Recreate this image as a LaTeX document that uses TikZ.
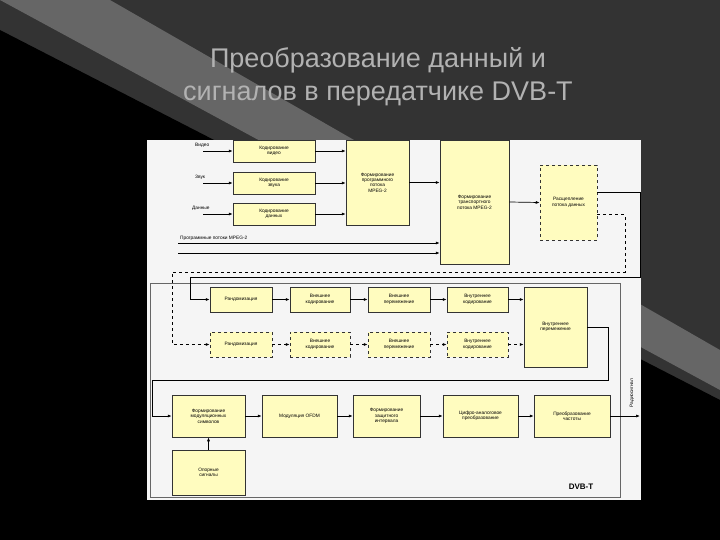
\documentclass[tikz,border=0pt]{standalone}
\usepackage{fontspec}
\setmainfont{Liberation Sans}
\usetikzlibrary{arrows.meta}
\begin{document}
\begin{tikzpicture}[x=1pt,y=-1pt,
 blk/.style={draw=black!80,fill=yellow!25,line width=0.5pt,align=center,font=\fontsize{4.8}{5.4}\selectfont,inner sep=1pt},
 dblk/.style={blk,dashed},
 ar/.style={-{Latex[length=4pt,width=3pt]},line width=0.7pt},
 lab/.style={font=\fontsize{4.8}{5.4}\selectfont,inner sep=0pt}]
\useasboundingbox (0,0) rectangle (720,540);
\fill[black!80] (0,0) rectangle (720,540);
\fill[black!60] (0,0) -- (110,0) -- (720,350) -- (720,390) -- cycle;
\fill[black] (0,30) -- (720,400) -- (720,540) -- (0,540) -- cycle;
\node[text=black!30,font=\fontsize{27}{33}\selectfont,align=center] (title) at (378,77) {Преобразование данный и\\сигналов в передатчике DVB-T};
\fill[black!4] (147,140) rectangle (641,500);
\draw[black!60,line width=0.6pt] (150,283) rectangle (620,497);
% top
\node[blk,minimum width=82pt,minimum height=22pt] (kv) at (274,151) {Кодирование\\видео};
\node[blk,minimum width=82pt,minimum height=22pt] (kz) at (274,183) {Кодирование\\звука};
\node[blk,minimum width=82pt,minimum height=22pt] (kd) at (274,214) {Кодирование\\данных};
\node[blk,minimum width=63pt,minimum height=85pt] (pp) at (377.5,182.5) {Формирование\\программного\\потока\\MPEG-2};
\node[blk,minimum width=69pt,minimum height=124pt] (tp) at (474.5,202) {Формирование\\транспортного\\потока MPEG-2};
\node[dblk,minimum width=57pt,minimum height=75pt] (sp) at (568.5,202.5) {Расщепление\\потока данных};
\coordinate (iv) at (203,151); \coordinate (iz) at (203,183); \coordinate (id) at (203,214);
\node[lab,anchor=south west] (lv) at (195,148) {Видео};
\node[lab,anchor=south west] (lz) at (195,180) {Звук};
\node[lab,anchor=south west] (ld) at (192,211) {Данные};
\draw[ar] (iv) -- (kv); \draw[ar] (iz) -- (kz); \draw[ar] (id) -- (kd);
\draw[ar] (kv.east) -- (kv.east-|pp.west);
\draw[ar] (kz.east) -- (kz.east-|pp.west);
\draw[ar] (kd.east) -- (kd.east-|pp.west);
\draw[ar] (pp.east) -- (pp.east-|tp.west);
\coordinate (p1) at (178,243); \coordinate (p2) at (178,253);
\node[lab,anchor=south west] (lp) at (180,241) {Программные потоки MPEG-2};
\draw[ar] (p1) -- (p1-|tp.west); \draw[ar] (p2) -- (p2-|tp.west);
\draw[ar] (tp.east) -- (sp.west);
% row 2
\node[blk,minimum width=62pt,minimum height=25pt] (r1) at (241,299.5) {Рандомизация};
\node[blk,minimum width=60pt,minimum height=25pt] (r2) at (320,299.5) {Внешнее\\кодирование};
\node[blk,minimum width=62pt,minimum height=25pt] (r3) at (399,299.5) {Внешнее\\перемежение};
\node[blk,minimum width=61pt,minimum height=25pt] (r4) at (477.5,299.5) {Внутреннее\\кодирование};
\node[blk,minimum width=63pt,minimum height=80pt] (r5) at (555.5,327) {Внутреннее\\перемежение};
\node[dblk,minimum width=62pt,minimum height=25pt] (d1) at (241,344.5) {Рандомизация};
\node[dblk,minimum width=60pt,minimum height=25pt] (d2) at (320,344.5) {Внешнее\\кодирование};
\node[dblk,minimum width=62pt,minimum height=25pt] (d3) at (399,344.5) {Внешнее\\перемежение};
\node[dblk,minimum width=61pt,minimum height=25pt] (d4) at (477.5,344.5) {Внутреннее\\кодирование};
\draw[ar] (r1)--(r2); \draw[ar] (r2)--(r3); \draw[ar] (r3)--(r4); \draw[ar] (r4.east)--(r4.east-|r5.west);
\draw[ar,dashed] (d1)--(d2); \draw[ar,dashed] (d2)--(d3); \draw[ar,dashed] (d3)--(d4); \draw[ar,dashed] (d4.east)--(d4.east-|r5.west);
\draw[ar] (sp.east|-0,192) -- (640,192) -- (640,277) -- (190,277) |- (r1.west);
\draw[ar,dashed,line width=1pt] (sp.east|-0,215) -- (625,215) -- (625,272) -- (172,272) |- (d1.west);
% row 3
\node[blk,minimum width=73pt,minimum height=42pt] (m1) at (208.5,416) {Формирование\\модуляционных\\символов};
\node[blk,minimum width=75pt,minimum height=42pt] (m2) at (299.5,416) {Модуляция OFDM};
\node[blk,minimum width=67pt,minimum height=42pt] (m3) at (386.5,416) {Формирование\\защитного\\интервала};
\node[blk,minimum width=75pt,minimum height=42pt] (m4) at (480.5,416) {Цифро-аналоговое\\преобразование};
\node[blk,minimum width=76pt,minimum height=42pt] (m5) at (572,416) {Преобразование\\частоты};
\node[blk,minimum width=73pt,minimum height=45pt] (os) at (208.5,472.5) {Опорные\\сигналы};
\draw[ar] (r5.east) -- (608,327) -- (608,380) -- (152,380) |- (m1.west);
\draw[ar] (m1)--(m2); \draw[ar] (m2)--(m3); \draw[ar] (m3)--(m4); \draw[ar] (m4)--(m5);
\draw[ar] (os)--(m1);
\coordinate (out) at (640,416);
\draw[ar] (m5)--(out);
\node[lab,rotate=90] (rs) at (632,393) {Радиосигнал};
\node[font=\bfseries\fontsize{8}{9}\selectfont] (dvb) at (581,487) {DVB-T};
\end{tikzpicture}
\end{document}
